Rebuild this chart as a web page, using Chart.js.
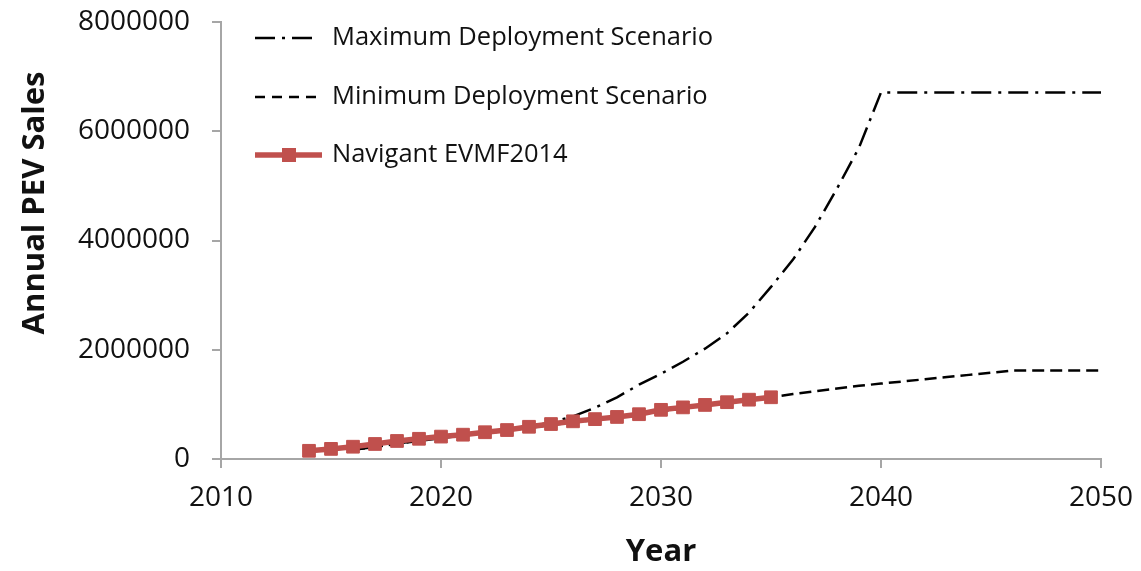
<!DOCTYPE html>
<html>
<head>
<meta charset="utf-8">
<script src="https://cdn.jsdelivr.net/npm/chart.js@4.4.1/dist/chart.umd.min.js"></script>
<style>
  body { margin: 0; background: #fff; }
  canvas { display: block; }
</style>
</head>
<body>
<canvas id="graficoPev" width="1141" height="571"></canvas>
<script>
// anni e valori
const maxYears = [2016, 2017, 2018, 2019, 2020, 2021, 2022, 2023, 2024, 2025, 2026, 2027, 2028,
    2029, 2030, 2031, 2032, 2033, 2034, 2035, 2036, 2037, 2038, 2039, 2040, 2050];
const maxSales = [170000, 220000, 280000, 340000, 400000, 440000, 480000, 530000, 590000, 670000,
    780000, 940000, 1130000, 1360000, 1560000, 1780000, 2020000, 2300000, 2680000, 3150000,
    3650000, 4250000, 4950000, 5700000, 6710000, 6710000];

const minYears = [2016, 2017, 2018, 2019, 2020, 2021, 2022, 2023, 2024, 2025, 2026, 2027, 2028,
    2029, 2030, 2031, 2032, 2033, 2034, 2035, 2036, 2037, 2038, 2039, 2040, 2041, 2042, 2043,
    2044, 2045, 2046, 2050];
const minSales = [170000, 220000, 280000, 330000, 380000, 430000, 470000, 520000, 570000, 620000,
    670000, 720000, 770000, 820000, 870000, 930000, 980000, 1030000, 1080000, 1130000, 1190000,
    1240000, 1290000, 1340000, 1380000, 1420000, 1460000, 1500000, 1540000, 1580000, 1620000, 1620000];

const navYears = [2014, 2015, 2016, 2017, 2018, 2019, 2020, 2021, 2022, 2023, 2024, 2025, 2026,
    2027, 2028, 2029, 2030, 2031, 2032, 2033, 2034, 2035];
const navSales = [150000, 185000, 225000, 275000, 330000, 370000, 410000, 445000, 490000, 530000,
    590000, 640000, 690000, 730000, 770000, 820000, 900000, 945000, 990000, 1040000, 1086000, 1130000];

const xTicks = [2010, 2020, 2030, 2040, 2050];
const yTicks = [0, 2000000, 4000000, 6000000, 8000000];

const seriesNames = ['Maximum Deployment Scenario', 'Minimum Deployment Scenario', 'Navigant EVMF2014'];

const FONT = "'Open Sans', 'Noto Sans', sans-serif";
const RED = '#C0504D';
const AXIS_GREY = '#A6A6A6';

function toPoints(xs, ys) {
    return xs.map((x, i) => ({ x: x, y: ys[i] }));
}

// legenda dentro l'area del grafico
const legendaInterna = {
    id: 'legendaInterna',
    afterDraw(chart) {
        const ctx = chart.ctx;
        const rows = [38, 97, 155];
        chart.data.datasets.forEach((ds, i) => {
            const y = rows[i];
            ctx.save();
            ctx.strokeStyle = ds.borderColor;
            ctx.lineWidth = ds.borderWidth;
            ctx.setLineDash(ds.legendDash || []);
            ctx.beginPath();
            ctx.moveTo(255, y);
            ctx.lineTo(ds.legendEnd || 316, y);
            ctx.stroke();
            ctx.setLineDash([]);
            if (ds.pointRadius > 0) {
                ctx.fillStyle = ds.pointBackgroundColor;
                ctx.fillRect(282, y - 7, 14, 14);
            }
            ctx.fillStyle = '#111';
            ctx.font = '25.5px ' + FONT;
            ctx.textAlign = 'left';
            ctx.textBaseline = 'middle';
            ctx.fillText(ds.label, 332, y);
            ctx.restore();
        });
    }
};

// titolo asse y
const titoloY = {
    id: 'titoloY',
    afterDraw(chart) {
        const ctx = chart.ctx;
        ctx.save();
        ctx.translate(35, 203);
        ctx.rotate(-Math.PI / 2);
        ctx.fillStyle = '#111';
        ctx.font = 'bold 31px ' + FONT;
        ctx.textAlign = 'center';
        ctx.textBaseline = 'middle';
        ctx.fillText('Annual PEV Sales', 0, 0);
        ctx.restore();
    }
};

const canvas = document.getElementById('graficoPev');

new Chart(canvas, {
    type: 'line',
    data: {
        datasets: [{
            label: seriesNames[0],
            data: toPoints(maxYears, maxSales),
            borderColor: '#000',
            borderWidth: 2.5,
            borderDash: [20, 7, 3, 7],
            legendDash: [20, 7, 3, 7],
            pointRadius: 0,
            order: 2
        }, {
            label: seriesNames[1],
            data: toPoints(minYears, minSales),
            borderColor: '#000',
            borderWidth: 2.5,
            borderDash: [12, 6],
            legendDash: [10, 7],
            pointRadius: 0,
            order: 1
        }, {
            label: seriesNames[2],
            data: toPoints(navYears, navSales),
            borderColor: RED,
            borderWidth: 5.5,
            pointStyle: 'rect',
            pointRadius: 9,
            pointBorderWidth: 1,
            pointBackgroundColor: RED,
            pointBorderColor: RED,
            legendEnd: 322,
            order: 0
        }]
    },
    options: {
        responsive: false,
        animation: false,
        devicePixelRatio: 1,
        layout: {
            padding: { left: 0, top: 22, right: 40, bottom: 0 }
        },
        scales: {
            x: {
                type: 'linear',
                min: 2010,
                max: 2050,
                afterFit(scale) {
                    scale.height = 112;
                    scale.paddingLeft = 0;
                    scale.paddingRight = 0;
                },
                afterBuildTicks(scale) { scale.ticks = xTicks.map(v => ({ value: v })); },
                ticks: {
                    color: '#111',
                    padding: 13,
                    font: { family: FONT, size: 28 },
                    callback: v => String(v)
                },
                grid: {
                    drawOnChartArea: false,
                    color: AXIS_GREY,
                    lineWidth: 2,
                    tickLength: 9
                },
                border: { color: AXIS_GREY, width: 2 },
                title: {
                    display: true,
                    text: 'Year',
                    color: '#111',
                    padding: { top: 0, bottom: 0 },
                    font: { family: FONT, size: 31, weight: 'bold' }
                }
            },
            y: {
                min: 0,
                max: 8000000,
                afterFit(scale) {
                    scale.width = 221;
                    scale.paddingTop = 0;
                    scale.paddingBottom = 0;
                },
                afterBuildTicks(scale) { scale.ticks = yTicks.map(v => ({ value: v })); },
                ticks: {
                    color: '#111',
                    padding: 22,
                    font: { family: FONT, size: 28 },
                    callback: v => String(v)
                },
                grid: {
                    drawOnChartArea: false,
                    color: AXIS_GREY,
                    lineWidth: 2,
                    tickLength: 9
                },
                border: { color: AXIS_GREY, width: 2 }
            }
        },
        plugins: {
            legend: { display: false },
            tooltip: { enabled: false }
        }
    },
    plugins: [legendaInterna, titoloY]
});
</script>
</body>
</html>
